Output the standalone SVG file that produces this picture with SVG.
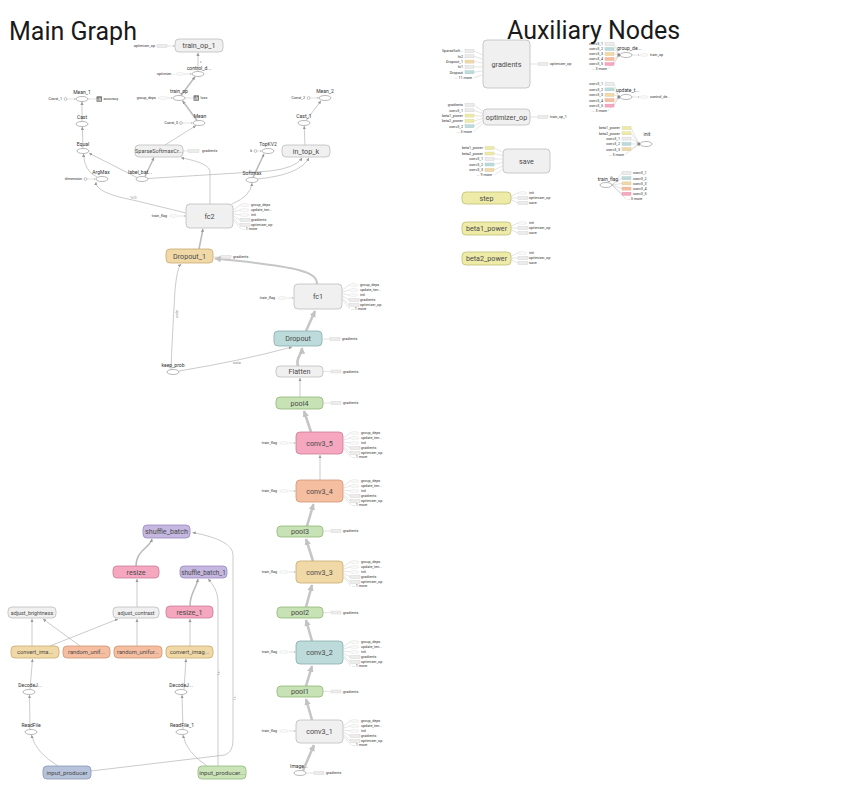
<svg xmlns="http://www.w3.org/2000/svg" width="862" height="808" viewBox="0 0 862 808">
<defs>
<marker id="a" viewBox="0 0 10 10" refX="10" refY="5" markerWidth="3.2" markerHeight="3.2" markerUnits="userSpaceOnUse" orient="auto"><path d="M0,0L10,5L0,10z" fill="#999"/></marker>
<marker id="ab" viewBox="0 0 10 10" refX="9" refY="5" markerWidth="6.5" markerHeight="6.5" markerUnits="userSpaceOnUse" orient="auto"><path d="M0,0L10,5L0,10z" fill="#c2c2c2"/></marker>
<marker id="as" viewBox="0 0 10 10" refX="10" refY="5" markerWidth="1.8" markerHeight="1.8" markerUnits="userSpaceOnUse" orient="auto"><path d="M0,0L10,5L0,10z" fill="#aaa"/></marker>
<g id="outAnn">
 <path class="ln" d="M0.5,6 L7,1 M0.5,8 L7,6 M0.5,10 L7,11 M0.5,12 L7,16 M0.5,14 L7,21 M0.5,16 L8,25"/>
 <ellipse class="st" cx="11.5" cy="1" rx="4.5" ry="1.4"/>
 <ellipse class="st" cx="11.5" cy="6" rx="4.5" ry="1.4"/>
 <ellipse class="st" cx="11.5" cy="11" rx="4.5" ry="1.4"/>
 <rect class="sg" x="7" y="14.5" width="10" height="3"/>
 <rect class="sg" x="7" y="19.5" width="10" height="3"/>
 <text class="an" x="18" y="2.3">group_deps</text>
 <text class="an" x="18" y="7.3">update_ten...</text>
 <text class="an" x="18" y="12.3">init</text>
 <text class="an" x="18" y="17.3">gradients</text>
 <text class="an" x="18" y="22.3">optimizer_op</text>
 <text class="an" x="9" y="26.3">... 1 more</text>
</g>
<g id="tfAnn">
 <text class="an ae" x="-19" y="1.3">train_flag</text>
 <ellipse class="st" cx="-12" cy="0" rx="4.5" ry="1.4"/>
 <path class="ln" d="M-7,0 L-0.5,0" marker-end="url(#as)"/>
</g>
<g id="gradAnn">
 <path class="ln" d="M0.5,0 L8,0"/>
 <rect class="sg" x="8" y="-1.5" width="10" height="3"/>
 <text class="an" x="20" y="1.3">gradients</text>
</g>
<g id="var3Ann">
 <path class="ln" d="M0.5,4 L7,1 M0.5,6 L7,6 M0.5,8 L7,11"/>
 <ellipse class="st" cx="11.5" cy="1" rx="4.5" ry="1.4"/>
 <rect class="sg" x="7" y="4.5" width="10" height="3"/>
 <rect class="sg" x="7" y="9.5" width="10" height="3"/>
 <text class="an" x="18" y="2.3">init</text>
 <text class="an" x="18" y="7.3">optimizer_op</text>
 <text class="an" x="18" y="12.3">save</text>
</g>
<g id="sumIcon">
 <rect x="0" y="0" width="5.5" height="5.5" rx="0.6" fill="#7a7a7a"/>
 <path d="M1.4,4.5V2.6M2.75,4.5V1.2M4.1,4.5V2" stroke="#fff" stroke-width="0.7"/>
</g>
</defs>
<style>
text{font-family:Roboto,"Liberation Sans",sans-serif}
.title{font-size:25px;fill:#1a1a1a}
.nl{font-size:7.2px;fill:#4a4a4a;text-anchor:middle}
.el{font-size:5px;fill:#333;text-anchor:middle}
.an{font-size:3.7px;fill:#333}
.ae{text-anchor:end}
.lb{font-size:3px;fill:#888}
.g{fill:#f0f0f0;stroke:#bcbcbc;stroke-width:0.8}
.tan{fill:#f1d9a7;stroke:#c9aa72;stroke-width:0.8}
.teal{fill:#bddbda;stroke:#88adac;stroke-width:0.8}
.grn{fill:#c7e2b4;stroke:#8fb779;stroke-width:0.8}
.pnk{fill:#f5a7bf;stroke:#cc7c96;stroke-width:0.8}
.sal{fill:#f6bea0;stroke:#cf9575;stroke-width:0.8}
.pur{fill:#c5b8e0;stroke:#9989c1;stroke-width:0.8}
.blu{fill:#b7c3da;stroke:#8997b5;stroke-width:0.8}
.yel{fill:#eeeba9;stroke:#c2be72;stroke-width:0.8}
.grn2{fill:#cae4b7;stroke:#93b97d;stroke-width:0.8}
.op{fill:#fff;stroke:#8a8a8a;stroke-width:0.6}
.cst{fill:#fff;stroke:#8a8a8a;stroke-width:0.5}
.st{fill:#fafafa;stroke:#c4c4c4;stroke-width:0.4;stroke-dasharray:0.8 0.5}
.sg{fill:#ececec;stroke:#d0d0d0;stroke-width:0.4}
.sgr{fill:#ececec;stroke:#ccc;stroke-width:0.4}
.stan{fill:#f1d9a7;stroke:#d9c196;stroke-width:0.4}
.steal{fill:#bddbda;stroke:#a5c6c5;stroke-width:0.4}
.ssal{fill:#f6bea0;stroke:#e0a98b;stroke-width:0.4}
.spnk{fill:#f5a7bf;stroke:#e095ac;stroke-width:0.4}
.syel{fill:#eeeba9;stroke:#d6d293;stroke-width:0.4}
.e{fill:none;stroke:#a8a8a8;stroke-width:0.6;marker-end:url(#a)}
.ed{fill:none;stroke:#bababa;stroke-width:1.5;marker-end:url(#a)}
.eb{fill:none;stroke:#c6c6c6;stroke-width:2.6;marker-end:url(#ab)}
.ln{fill:none;stroke:#b0b0b0;stroke-width:0.35}
</style>
<rect width="862" height="808" fill="#fff"/>
<text class="title" x="9" y="40">Main Graph</text>
<text class="title" x="507" y="39">Auxiliary Nodes</text>

<g id="edges">
 <path class="e" d="M198,71.5 L198,52.8"/>
 <path class="ed" d="M181,95.5 L195,76.8"/>
 <path class="ed" d="M197,120.5 L182.5,100.8"/>
 <path class="e" d="M165,145 L196,125.6"/>
 <path class="e" d="M82,121.5 L82,101.8"/>
 <path class="e" d="M83,148.5 L82.3,126.8"/>
 <path class="e" d="M97,177 Q84,171 83.5,153.8"/>
 <path class="e" d="M137,177.5 L89,153.2"/>
 <path class="ed" d="M145,176.5 L154,157.5"/>
 <path class="e" d="M148,178.5 L270,171 Q296,168 302,157.8"/>
 <path class="e" d="M257,179 Q300,175 309,157.8"/>
 <path class="e" d="M306,120.5 L321,100.8"/>
 <path class="e" d="M305,145 L304.2,126"/>
 <path class="ed" d="M253,177.5 L264,154"/>
 <path class="e" d="M232,204 Q251,196 252,183"/>
 <path class="e" d="M210,204 L210,172 Q210,163 181,157.8"/>
 <path class="e" d="M186,213 L135,200.5 Q95,193 96,182"/>
 <path class="ed" d="M199,249 L203,229"/>
 <path class="eb" style="stroke-width:2" d="M317,284 C317,272 302,267 215,258.5"/>
 <path class="eb" d="M306,331 L315,311"/>
 <path class="e" d="M171,369.5 Q172,340 175,290 Q177,268 181,264"/>
 <path class="e" d="M179,371 Q240,361 292,347"/>
 <path class="eb" d="M298,366 C295,358 302,355 302,348"/>
 <path class="e" d="M300,397 L300,378"/>
 <path class="eb" d="M311,432 L304,411"/>
 <path class="e" d="M320,480 L320,455"/>
 <path class="eb" d="M307,526 L313.5,504"/>
 <path class="eb" d="M313,561 L306,539"/>
 <path class="eb" d="M306,607 L312,585"/>
 <path class="eb" d="M312,641 L306,620"/>
 <path class="eb" d="M306,686 L312,666"/>
 <path class="eb" d="M312,720 L306,699"/>
 <path class="eb" d="M303,770.5 L314,745"/>
 <path class="ed" d="M136,566 C136,550 150,548 152,539"/>
 <path class="e" d="M91,771 L225,755 Q233,752 233,740 L233,555 Q233,540 192.5,532.5"/>
 <path class="e" d="M218,766 L218,600 Q217,588 208,579"/>
 <path class="ed" d="M190,606 C190,592 196,590 198,579"/>
 <path class="e" d="M137,607 L137,579"/>
 <path class="e" d="M190,646 L190,619"/>
 <path class="e" d="M32,646 L32,619"/>
 <path class="e" d="M80,646 L43,619"/>
 <path class="e" d="M50,646 L118,619"/>
 <path class="e" d="M137,646 L137,619"/>
 <path class="e" d="M30,689.5 L32.5,659"/>
 <path class="e" d="M30,729.5 L29.5,695"/>
 <path class="e" d="M58,766 Q35,752 31.5,735"/>
 <path class="e" d="M184,689.5 L186,659"/>
 <path class="e" d="M183,729.5 L182,695"/>
 <path class="e" d="M207,766 Q186,752 183,735"/>
 <text class="lb" x="200" y="63">s</text>
 <text class="lb" x="178" y="318" transform="rotate(-90 178 318)">scalar</text>
 <text class="lb" x="233" y="364">scalar</text>
 <text class="lb" x="130" y="199">?×10</text>
 <text class="lb" x="236" y="700" transform="rotate(-90 236 700)">1×...</text>
 <text class="lb" x="220" y="675" transform="rotate(-90 220 675)">1×...</text>
</g>

<g id="train_op_1"><rect class="g" x="175" y="39" width="48" height="13" rx="4"/><text class="nl" x="199" y="48">train_op_1</text>
 <text class="an ae" x="155" y="47.3">optimizer_op</text><rect class="sg" x="157" y="44.5" width="10" height="3"/><path class="ln" d="M167,46 L174.5,46" marker-end="url(#as)"/></g>
<g id="control_dependency"><ellipse class="op" cx="198" cy="74" rx="6" ry="2.5"/><text class="el" x="199" y="69.5">control_d...</text>
 <text class="an ae" x="174" y="75.3">optimize...</text><ellipse class="st" cx="180" cy="74" rx="4" ry="1.4"/><path class="ln" d="M184,74 L191.5,74" marker-end="url(#as)"/></g>
<g id="train_op"><ellipse class="op" cx="179" cy="98" rx="6" ry="2.5"/><text class="el" x="179" y="93.3">train_op</text>
 <text class="an ae" x="156" y="99.3">group_deps</text><ellipse class="st" cx="163" cy="98" rx="5" ry="1.4"/><path class="ln" d="M168,98 L172.5,98" marker-end="url(#as)"/>
 <path class="ln" d="M185,98 L193,98"/><use href="#sumIcon" x="193.5" y="95.3"/><text class="an" x="200.5" y="99.3">loss</text></g>
<g id="Mean"><ellipse class="op" cx="199" cy="123" rx="6" ry="2.5"/><text class="el" x="200" y="118">Mean</text>
 <text class="an ae" x="178" y="124.3">Const_0</text><circle class="cst" cx="181" cy="123" r="1.4"/><path class="ln" d="M182.5,123 L192.5,123" marker-end="url(#as)"/></g>
<g id="SparseSoftmax"><rect class="g" x="135" y="145" width="48" height="12" rx="4"/><text class="nl" x="159" y="153.3" style="font-size:5.6px">SparseSoftmaxCr...</text>
 <path class="ln" d="M183,151 L188,151"/><rect class="sg" x="188" y="149.5" width="11" height="3"/><text class="an" x="202" y="152.3">gradients</text></g>
<g id="Mean_1"><ellipse class="op" cx="82" cy="99" rx="6" ry="2.5"/><text class="el" x="82" y="93.5">Mean_1</text>
 <text class="an ae" x="62" y="100.3">Const_1</text><circle class="cst" cx="65.5" cy="99" r="1.4"/><path class="ln" d="M67,99 L75.5,99" marker-end="url(#as)"/>
 <path class="ln" d="M88,99 L96,99"/><use href="#sumIcon" x="96.5" y="96.3"/><text class="an" x="103.5" y="100.3">accuracy</text></g>
<g id="Cast"><ellipse class="op" cx="82" cy="124" rx="6" ry="2.5"/><text class="el" x="82" y="118.5">Cast</text></g>
<g id="Equal"><ellipse class="op" cx="83" cy="151" rx="6" ry="2.5"/><text class="el" x="83" y="145.5">Equal</text></g>
<g id="ArgMax"><ellipse class="op" cx="102" cy="179" rx="6" ry="2.5"/><text class="el" x="101" y="173.5">ArgMax</text>
 <text class="an ae" x="82" y="180.3">dimension</text><circle class="cst" cx="85.5" cy="179" r="1.4"/><path class="ln" d="M87,179 L95.5,179" marker-end="url(#as)"/></g>
<g id="label_batch"><ellipse class="op" cx="142" cy="179" rx="6" ry="2.5"/><text class="el" x="140" y="173.5">label_bat...</text></g>
<g id="Mean_2"><ellipse class="op" cx="325" cy="98" rx="6" ry="2.5"/><text class="el" x="325" y="92.5">Mean_2</text>
 <text class="an ae" x="305" y="99.3">Const_2</text><circle class="cst" cx="308.5" cy="98" r="1.4"/><path class="ln" d="M310,98 L318.5,98" marker-end="url(#as)"/></g>
<g id="Cast_1"><ellipse class="op" cx="304" cy="123" rx="6" ry="2.5"/><text class="el" x="304" y="117.5">Cast_1</text></g>
<g id="in_top_k"><rect class="g" x="282" y="145" width="48" height="12" rx="4"/><text class="nl" x="306" y="153.5">in_top_k</text></g>
<g id="TopKV2"><ellipse class="op" cx="268" cy="151" rx="6" ry="2.5"/><text class="el" x="268" y="145.5">TopKV2</text>
 <text class="an ae" x="252" y="152.3">k</text><circle class="cst" cx="255.5" cy="151" r="1.4"/><path class="ln" d="M257,151 L261.5,151" marker-end="url(#as)"/></g>
<g id="Softmax"><ellipse class="op" cx="252" cy="180" rx="6" ry="2.5"/><text class="el" x="252" y="174.5">Softmax</text></g>
<g id="fc2"><rect class="g" x="186" y="204" width="47" height="24" rx="4"/><text class="nl" x="209.5" y="218.5">fc2</text>
 <use href="#tfAnn" x="186" y="216"/><use href="#outAnn" x="233" y="204"/></g>
<g id="Dropout_1"><rect class="tan" x="166" y="249" width="47" height="14" rx="4"/><text class="nl" x="189.5" y="258.5">Dropout_1</text>
 <use href="#gradAnn" x="213" y="257"/></g>
<g id="fc1"><rect class="g" x="294" y="284" width="48" height="25" rx="4"/><text class="nl" x="318" y="299">fc1</text>
 <use href="#tfAnn" x="294" y="298"/><use href="#outAnn" x="342" y="284"/></g>
<g id="Dropout"><rect class="teal" x="274" y="331" width="48" height="15" rx="4"/><text class="nl" x="298" y="341">Dropout</text>
 <use href="#gradAnn" x="322" y="339"/></g>
<g id="keep_prob"><ellipse class="op" cx="173" cy="372" rx="6" ry="2.5"/><text class="el" x="173" y="366.5">keep_prob</text></g>
<g id="Flatten"><rect class="g" x="276" y="366" width="47" height="11" rx="4"/><text class="nl" x="299.5" y="374">Flatten</text>
 <use href="#gradAnn" x="323" y="371.5"/></g>
<g id="pool4"><rect class="grn" x="276" y="397" width="47" height="12" rx="4"/><text class="nl" x="299.5" y="405.5">pool4</text>
 <use href="#gradAnn" x="323" y="403"/></g>
<g id="conv3_5"><rect class="pnk" x="296" y="432" width="47" height="22" rx="4"/><text class="nl" x="319.5" y="445.5">conv3_5</text>
 <use href="#tfAnn" x="296" y="443"/><use href="#outAnn" x="343" y="432"/></g>
<g id="conv3_4"><rect class="sal" x="296" y="480" width="47" height="22" rx="4"/><text class="nl" x="319.5" y="493.5">conv3_4</text>
 <use href="#tfAnn" x="296" y="491"/><use href="#outAnn" x="343" y="480"/></g>
<g id="pool3"><rect class="grn" x="277" y="526" width="46" height="11" rx="4"/><text class="nl" x="300" y="534">pool3</text>
 <use href="#gradAnn" x="323" y="531"/></g>
<g id="conv3_3"><rect class="tan" x="296" y="561" width="47" height="22" rx="4"/><text class="nl" x="319.5" y="574.5">conv3_3</text>
 <use href="#tfAnn" x="296" y="572"/><use href="#outAnn" x="343" y="561"/></g>
<g id="pool2"><rect class="grn" x="277" y="607" width="46" height="11" rx="4"/><text class="nl" x="300" y="615">pool2</text>
 <use href="#gradAnn" x="323" y="612.5"/></g>
<g id="conv3_2"><rect class="teal" x="296" y="641" width="47" height="23" rx="4"/><text class="nl" x="319.5" y="655">conv3_2</text>
 <use href="#tfAnn" x="296" y="652"/><use href="#outAnn" x="343" y="641"/></g>
<g id="pool1"><rect class="grn" x="277" y="686" width="46" height="11" rx="4"/><text class="nl" x="300" y="694">pool1</text>
 <use href="#gradAnn" x="323" y="691.5"/></g>
<g id="conv3_1"><rect class="g" x="296" y="720" width="47" height="23" rx="4"/><text class="nl" x="319.5" y="734">conv3_1</text>
 <use href="#tfAnn" x="296" y="731"/><use href="#outAnn" x="343" y="720"/></g>
<g id="Image"><ellipse class="op" cx="300" cy="773" rx="6" ry="2.5"/><text class="el" x="299" y="767.5">Image...</text>
 <use href="#gradAnn" x="306" y="773"/></g>

<g id="shuffle_batch"><rect class="pur" x="143" y="525" width="47" height="13" rx="4"/><text class="nl" x="166.5" y="534">shuffle_batch</text></g>
<g id="resize"><rect class="pnk" x="113" y="566" width="46" height="12" rx="4"/><text class="nl" x="136" y="574.5">resize</text></g>
<g id="shuffle_batch_1"><rect class="pur" x="180" y="566" width="47" height="12" rx="4"/><text class="nl" x="203.5" y="574.5" style="font-size:6.4px">shuffle_batch_1</text></g>
<g id="adjust_brightness"><rect class="g" x="8" y="607" width="48" height="11" rx="4"/><text class="nl" x="32" y="614.8" style="font-size:5.4px">adjust_brightness</text></g>
<g id="adjust_contrast"><rect class="g" x="113" y="607" width="46" height="11" rx="4"/><text class="nl" x="136" y="614.8" style="font-size:5.4px">adjust_contrast</text></g>
<g id="resize_1"><rect class="pnk" x="166" y="606" width="47" height="12" rx="4"/><text class="nl" x="189.5" y="614.5">resize_1</text></g>
<g id="convert_ima"><rect class="tan" x="11" y="646" width="48" height="12" rx="4"/><text class="nl" x="35" y="654.3" style="font-size:5.8px">convert_ima...</text></g>
<g id="random_unif"><rect class="sal" x="63" y="646" width="47" height="12" rx="4"/><text class="nl" x="86.5" y="654.3" style="font-size:5.8px">random_unif...</text></g>
<g id="random_unifor"><rect class="sal" x="114" y="646" width="48" height="12" rx="4"/><text class="nl" x="138" y="654.3" style="font-size:5.8px">random_unifor...</text></g>
<g id="convert_imag"><rect class="tan" x="166" y="646" width="47" height="12" rx="4"/><text class="nl" x="189.5" y="654.3" style="font-size:5.8px">convert_imag...</text></g>
<g id="DecodeJ"><ellipse class="op" cx="29" cy="692" rx="6" ry="2.5"/><text class="el" x="30" y="686.5">DecodeJ...</text></g>
<g id="DecodeJ_1"><ellipse class="op" cx="181" cy="692" rx="6" ry="2.5"/><text class="el" x="181" y="686.5">DecodeJ...</text></g>
<g id="ReadFile"><ellipse class="op" cx="31" cy="732" rx="6" ry="2.5"/><text class="el" x="31" y="726.5">ReadFile</text></g>
<g id="ReadFile_1"><ellipse class="op" cx="182" cy="732" rx="6" ry="2.5"/><text class="el" x="182" y="726.5">ReadFile_1</text></g>
<g id="input_producer"><rect class="blu" x="43" y="766" width="48" height="13" rx="4"/><text class="nl" x="67" y="775" style="font-size:6.2px">input_producer</text></g>
<g id="input_producer_1"><rect class="grn2" x="198" y="766" width="48" height="13" rx="4"/><text class="nl" x="222" y="775" style="font-size:6.2px">input_producer...</text></g>

<g id="gradients">
 <rect class="g" x="483" y="40" width="47" height="48" rx="4"/><text class="nl" x="506.5" y="66.5">gradients</text>
 <path class="ln" d="M474,51 L482.5,55 M474,56.3 L482.5,59 M474,61.6 L482.5,63 M474,66.9 L482.5,67 M474,72.2 L482.5,71 M474,77.5 L482.5,75"/>
 <rect class="sgr" x="465" y="49.5" width="9" height="3"/><rect class="sgr" x="465" y="54.8" width="9" height="3"/><rect class="stan" x="465" y="60.1" width="9" height="3"/><rect class="sgr" x="465" y="65.4" width="9" height="3"/><rect class="steal" x="465" y="70.7" width="9" height="3"/>
 <text class="an ae" x="463" y="52.3">SparseSoft...</text><text class="an ae" x="463" y="57.6">fc2</text><text class="an ae" x="463" y="62.9">Dropout_1</text><text class="an ae" x="463" y="68.2">fc1</text><text class="an ae" x="463" y="73.5">Dropout</text><text class="an ae" x="472" y="78.8">... 11 more</text>
 <path class="ln" d="M530,64 L538,64"/><rect class="sg" x="538" y="62.5" width="10" height="3"/><text class="an" x="550" y="65.3">optimizer_op</text>
</g>
<g id="optimizer_op">
 <rect class="g" x="483" y="109" width="47" height="16" rx="4"/><text class="nl" x="506.5" y="119.5">optimizer_op</text>
 <path class="ln" d="M474,105 L482.5,111 M474,110.3 L482.5,113.5 M474,115.6 L482.5,116 M474,120.9 L482.5,118.5 M474,126.2 L482.5,121 M474,131.5 L482.5,123.5"/>
 <rect class="sgr" x="465" y="103.5" width="9" height="3"/><rect class="sgr" x="465" y="108.8" width="9" height="3"/><rect class="syel" x="465" y="114.1" width="9" height="3"/><rect class="syel" x="465" y="119.4" width="9" height="3"/><rect class="steal" x="465" y="124.7" width="9" height="3"/>
 <text class="an ae" x="463" y="106.3">gradients</text><text class="an ae" x="463" y="111.6">conv3_1</text><text class="an ae" x="463" y="116.9">beta1_power</text><text class="an ae" x="463" y="122.2">beta2_power</text><text class="an ae" x="463" y="127.5">conv3_2</text><text class="an ae" x="472" y="132.8">... 3 more</text>
 <path class="ln" d="M530,117 L538,117"/><rect class="sg" x="538" y="115.5" width="10" height="3"/><text class="an" x="550" y="118.3">train_op_1</text>
</g>
<g id="save">
 <rect class="g" x="503" y="149" width="47" height="24" rx="4"/><text class="nl" x="526.5" y="163.5">save</text>
 <path class="ln" d="M494,148 L502.5,152 M494,153.5 L502.5,155.5 M494,159 L502.5,159 M494,164.5 L502.5,162.5 M494,170 L502.5,166 M494,175 L502.5,169.5"/>
 <rect class="syel" x="485" y="146.5" width="9" height="3"/><rect class="syel" x="485" y="152" width="9" height="3"/><rect class="sgr" x="485" y="157.5" width="9" height="3"/><rect class="steal" x="485" y="163" width="9" height="3"/><rect class="stan" x="485" y="168.5" width="9" height="3"/>
 <text class="an ae" x="483" y="149.3">beta1_power</text><text class="an ae" x="483" y="154.8">beta2_power</text><text class="an ae" x="483" y="160.3">conv3_1</text><text class="an ae" x="483" y="165.8">conv3_2</text><text class="an ae" x="483" y="171.3">conv3_3</text><text class="an ae" x="492" y="176.3">... 9 more</text>
</g>
<g id="step"><rect class="yel" x="462" y="192" width="49" height="12" rx="4"/><text class="nl" x="486.5" y="200.5">step</text><use href="#var3Ann" x="511" y="192"/></g>
<g id="beta1_power"><rect class="yel" x="462" y="222" width="49" height="13" rx="4"/><text class="nl" x="486.5" y="231">beta1_power</text><use href="#var3Ann" x="511" y="222"/></g>
<g id="beta2_power"><rect class="yel" x="462" y="252" width="49" height="13" rx="4"/><text class="nl" x="486.5" y="261">beta2_power</text><use href="#var3Ann" x="511" y="252"/></g>

<g id="group_deps">
 <path class="ln" d="M614,44 L619,55 M614,49 L619,55 M614,54 L619,55 M614,59 L619,55 M614,64 L619,55 M608,69 L619,55"/>
 <rect x="617.5" y="53.5" width="2.5" height="3" fill="#888"/>
 <rect class="sgr" x="605" y="42.5" width="9" height="3"/><rect class="steal" x="605" y="47.5" width="9" height="3"/><rect class="stan" x="605" y="52.5" width="9" height="3"/><rect class="ssal" x="605" y="57.5" width="9" height="3"/><rect class="spnk" x="605" y="62.5" width="9" height="3"/>
 <text class="an ae" x="603" y="45.3">conv3_1</text><text class="an ae" x="603" y="50.3">conv3_2</text><text class="an ae" x="603" y="55.3">conv3_3</text><text class="an ae" x="603" y="60.3">conv3_4</text><text class="an ae" x="603" y="65.3">conv3_5</text><text class="an ae" x="607" y="70.3">... 3 more</text>
 <ellipse class="op" cx="626" cy="55" rx="6" ry="2.5"/><text class="el" x="617" y="49.8" style="text-anchor:start">group_de...</text>
 <path class="ln" d="M632,55 L639.5,55" marker-end="url(#as)"/><ellipse class="st" cx="644" cy="55" rx="4" ry="1.4"/><text class="an" x="650" y="56.3">train_op</text>
</g>
<g id="update_ten">
 <path class="ln" d="M614,84 L619,97 M614,89.4 L619,97 M614,94.8 L619,97 M614,100.2 L619,97 M614,105.6 L619,97 M608,111 L619,97"/>
 <rect x="617.5" y="95.5" width="2.5" height="3" fill="#888"/>
 <rect class="sgr" x="605" y="82.5" width="9" height="3"/><rect class="steal" x="605" y="87.9" width="9" height="3"/><rect class="stan" x="605" y="93.3" width="9" height="3"/><rect class="ssal" x="605" y="98.7" width="9" height="3"/><rect class="spnk" x="605" y="104.1" width="9" height="3"/>
 <text class="an ae" x="603" y="85.3">conv3_1</text><text class="an ae" x="603" y="90.7">conv3_2</text><text class="an ae" x="603" y="96.1">conv3_3</text><text class="an ae" x="603" y="101.5">conv3_4</text><text class="an ae" x="603" y="106.9">conv3_5</text><text class="an ae" x="607" y="112.3">... 3 more</text>
 <ellipse class="op" cx="626" cy="97" rx="6" ry="2.5"/><text class="el" x="616" y="91.5" style="text-anchor:start">update_t...</text>
 <path class="ln" d="M632,97 L639.5,97" marker-end="url(#as)"/><ellipse class="st" cx="644" cy="97" rx="4" ry="1.4"/><text class="an" x="650" y="98.3">control_de...</text>
</g>
<g id="init">
 <path class="ln" d="M631,128 L639,144 M631,133.3 L639,144 M631,138.6 L639,144 M631,143.9 L639,144 M631,149.2 L639,144 M625,154.5 L639,144"/>
 <rect x="637.5" y="142.5" width="2.5" height="3" fill="#888"/>
 <rect class="syel" x="622" y="126.5" width="9" height="3"/><rect class="syel" x="622" y="131.8" width="9" height="3"/><rect class="sgr" x="622" y="137.1" width="9" height="3"/><rect class="steal" x="622" y="142.4" width="9" height="3"/><rect class="stan" x="622" y="147.7" width="9" height="3"/>
 <text class="an ae" x="620" y="129.3">beta1_power</text><text class="an ae" x="620" y="134.6">beta2_power</text><text class="an ae" x="620" y="139.9">conv3_1</text><text class="an ae" x="620" y="145.2">conv3_2</text><text class="an ae" x="620" y="150.5">conv3_3</text><text class="an ae" x="624" y="155.8">... 3 more</text>
 <ellipse class="op" cx="646" cy="144" rx="6" ry="2.5"/><text class="el" x="647" y="135.5">init</text>
</g>
<g id="train_flag">
 <ellipse class="op" cx="606" cy="185" rx="6" ry="2.5"/><text class="el" x="608" y="180.5">train_flag</text>
 <path class="ln" d="M612,185 L622,173 M612,185 L622,178.2 M612,185 L622,183.4 M612,185 L622,188.6 M612,185 L622,193.8 M612,185 L626,199"/>
 <rect class="sgr" x="622" y="171.5" width="9" height="3"/><rect class="steal" x="622" y="176.7" width="9" height="3"/><rect class="stan" x="622" y="181.9" width="9" height="3"/><rect class="ssal" x="622" y="187.1" width="9" height="3"/><rect class="spnk" x="622" y="192.3" width="9" height="3"/>
 <text class="an" x="633" y="174.3">conv3_1</text><text class="an" x="633" y="179.5">conv3_2</text><text class="an" x="633" y="184.7">conv3_3</text><text class="an" x="633" y="189.9">conv3_4</text><text class="an" x="633" y="195.1">conv3_5</text><text class="an" x="627" y="200.3">... 3 more</text>
</g>
</svg>
